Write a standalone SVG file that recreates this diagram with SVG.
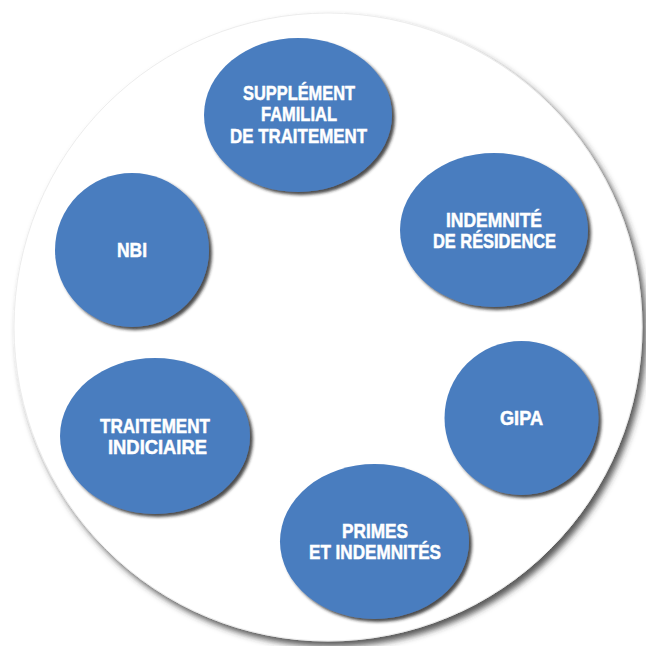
<svg xmlns="http://www.w3.org/2000/svg" width="646" height="646" viewBox="0 0 646 646">
<defs>
<filter id="bigShadow" x="-10%" y="-10%" width="120%" height="120%">
<feDropShadow dx="4" dy="5" stdDeviation="3" flood-color="#333" flood-opacity="0.8"/>
</filter>
<filter id="nodeShadow" x="-10%" y="-10%" width="125%" height="125%">
<feDropShadow dx="3" dy="3" stdDeviation="1.8" flood-color="#222" flood-opacity="0.8"/>
</filter>
<style>
.node{fill:#4a7dbf;filter:url(#nodeShadow);}
.lbl{font-family:"Liberation Sans","DejaVu Sans",Arial,sans-serif;font-weight:bold;font-size:20px;fill:#fff;stroke:#fff;stroke-width:0.5;text-anchor:middle;}
</style>
</defs>
<rect width="646" height="646" fill="#fff"/>
<circle cx="328" cy="327" r="314" fill="#fff" stroke="#ececec" stroke-width="1" filter="url(#bigShadow)"/>
<g id="connectors"/>
<g id="supplement">
<ellipse class="node" cx="298" cy="115" rx="94" ry="77"/>
<text class="lbl" x="299" y="99.5" textLength="112" lengthAdjust="spacingAndGlyphs">SUPPLÉMENT</text>
<text class="lbl" x="299" y="121" textLength="76" lengthAdjust="spacingAndGlyphs">FAMILIAL</text>
<text class="lbl" x="298.5" y="142.5" textLength="137" lengthAdjust="spacingAndGlyphs">DE TRAITEMENT</text>
</g>
<g id="residence">
<ellipse class="node" cx="494" cy="230" rx="94" ry="77"/>
<text class="lbl" x="494" y="226.5" textLength="96" lengthAdjust="spacingAndGlyphs">INDEMNITÉ</text>
<text class="lbl" x="494.5" y="248" textLength="123" lengthAdjust="spacingAndGlyphs">DE RÉSIDENCE</text>
</g>
<g id="nbi">
<ellipse class="node" cx="132" cy="250" rx="77" ry="77"/>
<text class="lbl" x="132" y="256.5" textLength="30" lengthAdjust="spacingAndGlyphs">NBI</text>
</g>
<g id="traitement">
<ellipse class="node" cx="155" cy="436" rx="95" ry="78"/>
<text class="lbl" x="155" y="432.5" textLength="110" lengthAdjust="spacingAndGlyphs">TRAITEMENT</text>
<text class="lbl" x="157.5" y="453.5" textLength="99" lengthAdjust="spacingAndGlyphs">INDICIAIRE</text>
</g>
<g id="gipa">
<ellipse class="node" cx="521.5" cy="418" rx="77" ry="77"/>
<text class="lbl" x="521.5" y="424.5" textLength="43" lengthAdjust="spacingAndGlyphs">GIPA</text>
</g>
<g id="primes">
<ellipse class="node" cx="374.5" cy="541.5" rx="94.5" ry="77.5"/>
<text class="lbl" x="375" y="537.5" textLength="66" lengthAdjust="spacingAndGlyphs">PRIMES</text>
<text class="lbl" x="375" y="558.5" textLength="132" lengthAdjust="spacingAndGlyphs">ET INDEMNITÉS</text>
</g>
</svg>
